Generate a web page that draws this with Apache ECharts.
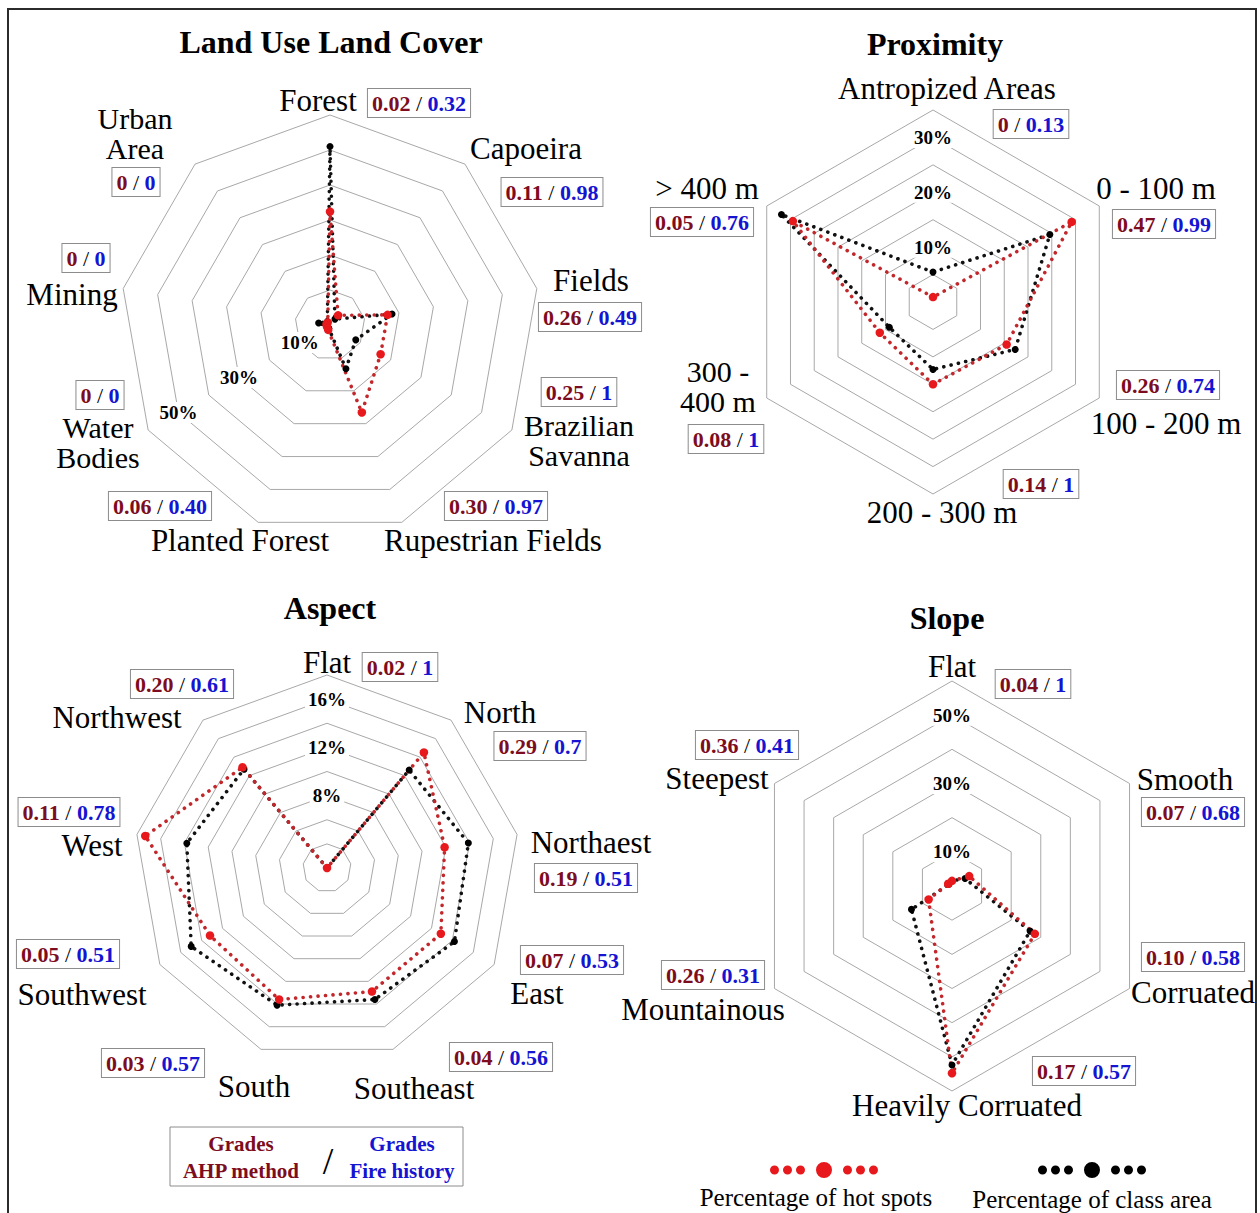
<!DOCTYPE html>
<html><head><meta charset="utf-8">
<script src="https://cdn.jsdelivr.net/npm/echarts@6/dist/echarts.min.js"></script>
<style>html,body{margin:0;padding:0;background:#fff}#c{width:1260px;height:1213px}</style>
</head><body><div id="c"></div>
<script>
// ---------------- DATA (axes listed clockwise from the top) ----------------
const seriesNames = ['Percentage of class area', 'Percentage of hot spots'];

// Land Use Land Cover
const lulcCategories = ['Forest', 'Capoeira', 'Fields', 'Brazilian\nSavanna', 'Rupestrian Fields', 'Planted Forest', 'Water\nBodies', 'Mining', 'Urban\nArea'];
const lulcClassArea = [51, 2.2, 18, 8.5, 13.3, 1.0, 0.8, 3.3, 1.2];
const lulcHotSpots = [32.4, 3.6, 16.7, 16.7, 26.6, 1.5, 1.0, 1.0, 1.0];
const lulcAhp = ['0.02', '0.11', '0.26', '0.25', '0.30', '0.06', '0', '0', '0'];
const lulcFire = ['0.32', '0.98', '0.49', '1', '0.97', '0.40', '0', '0', '0'];
const lulcTicks = [10, 30, 50];

// Proximity
const proxCategories = ['Antropized Areas', '0 - 100 m', '100 - 200 m', '200 - 300 m', '300 -\n400 m', '> 400 m'];
const proxClassArea = [5.45, 24.6, 17.3, 12.3, 9.2, 31.9];
const proxHotSpots = [0.9, 29.2, 15.5, 15.0, 11.2, 29.5];
const proxAhp = ['0', '0.47', '0.26', '0.14', '0.08', '0.05'];
const proxFire = ['0.13', '0.99', '0.74', '1', '1', '0.76'];
const proxTicks = [10, 20, 30];

// Aspect
const aspCategories = ['Flat', 'North', 'Northaest', 'East', 'Southeast', 'South', 'Southwest', 'West', 'Northwest'];
const aspClassArea = [2, 12.6, 13.9, 14.2, 13.6, 14.1, 15.0, 13.8, 12.7];
const aspHotSpots = [2, 14.5, 11.9, 12.9, 12.9, 13.6, 13.2, 17.3, 12.9];
const aspAhp = ['0.02', '0.29', '0.19', '0.07', '0.04', '0.03', '0.05', '0.11', '0.20'];
const aspFire = ['1', '0.7', '0.51', '0.53', '0.56', '0.57', '0.51', '0.78', '0.61'];
const aspTicks = [8, 12, 16];

// Slope
const slpCategories = ['Flat', 'Smooth', 'Corruated', 'Heavily Corruated', 'Mountainous', 'Steepest'];
const slpClassArea = [1.5, 4.4, 26.4, 52.4, 13.7, 1.0];
const slpHotSpots = [1.5, 5.8, 28, 54.8, 7.9, 1.3];
const slpAhp = ['0.04', '0.07', '0.10', '0.17', '0.26', '0.36'];
const slpFire = ['1', '0.68', '0.58', '0.57', '0.31', '0.41'];
const slpTicks = [10, 30, 50];

// ---------------- LAYOUT ----------------
const SERIF = '"Liberation Serif", "Times New Roman", "DejaVu Serif", serif';
const RED_LINE = '#c2282b', RED_DOT = '#e8191c', BLACK = '#000';

const panels = [
  { title: 'Land Use Land Cover', titlePos: [331, 42], center: [330, 325], radius: 210, min: 0, max: 60, split: 6, labelAxis: 6,
    cats: lulcCategories, area: lulcClassArea, hot: lulcHotSpots, ahp: lulcAhp, fire: lulcFire, ticks: lulcTicks,
    namePos: [[318,100],[526,148],[591,280],[579,440],[493,540],[240,540],[98,442],[72,294],[135,133]],
    boxPos: [[419,103],[552,192],[590,317],[579,392],[496,506],[160,506],[100,395],[86,258],[136,182]] },
  { title: 'Proximity', titlePos: [935, 44], center: [933, 302], radius: 192, min: 0, max: 35, split: 7, labelAxis: 0,
    cats: proxCategories, area: proxClassArea, hot: proxHotSpots, ahp: proxAhp, fire: proxFire, ticks: proxTicks,
    namePos: [[947,88],[1156,188],[1166,423],[942,512],[718,386],[707,188]],
    boxPos: [[1031,124],[1164,224],[1168,385],[1041,484],[726,439],[702,222]] },
  { title: 'Aspect', titlePos: [330, 608], center: [327, 868], radius: 193, min: 2, max: 18, split: 8, labelAxis: 0,
    cats: aspCategories, area: aspClassArea, hot: aspHotSpots, ahp: aspAhp, fire: aspFire, ticks: aspTicks,
    namePos: [[327,662],[500,712],[591,842],[537,993],[414,1088],[254,1086],[82,994],[92,845],[117,717]],
    boxPos: [[400,667],[540,746],[586,878],[572,960],[501,1057],[153,1063],[68,954],[69,812],[182,684]] },
  { title: 'Slope', titlePos: [947, 618], center: [952, 886], radius: 205, min: 0, max: 60, split: 6, labelAxis: 0,
    cats: slpCategories, area: slpClassArea, hot: slpHotSpots, ahp: slpAhp, fire: slpFire, ticks: slpTicks,
    namePos: [[952,666],[1185,779],[1193,992],[967,1105],[703,1009],[717,778]],
    boxPos: [[1033,684],[1193,812],[1193,957],[1084,1071],[713,975],[747,745]] }
];

// ECharts lays radar axes counter-clockwise: keep first, reverse the rest
function ccw(arr) { return [arr[0]].concat(arr.slice(1).reverse()); }

const radars = [], series = [], graphics = [];

graphics.push({ type: 'rect', shape: { x: 8, y: 9, width: 1248, height: 1230 }, style: { fill: 'none', stroke: '#2b2b2b', lineWidth: 2 }, silent: true });

panels.forEach(function (p, pi) {
  const indicators = p.cats.map(function (c) { return { name: c, min: p.min, max: p.max }; });
  indicators[p.labelAxis].axisLabel = {
    show: true, margin: 0, rotate: 0, align: 'center', verticalAlign: 'middle',
    formatter: function (v) { return p.ticks.indexOf(Math.round(v * 1000) / 1000) >= 0 ? '{b|' + Math.round(v) + '%}' : ''; },
    rich: { b: { fontFamily: SERIF, fontWeight: 'bold', fontSize: 19, color: '#000', backgroundColor: '#fff', padding: [1, 3] } }
  };
  radars.push({
    center: p.center, radius: p.radius, startAngle: 90, splitNumber: p.split, shape: 'polygon',
    indicator: ccw(indicators),
    axisName: { show: false },
    axisLine: { show: false }, axisTick: { show: false }, axisLabel: { show: false },
    splitArea: { show: false },
    splitLine: { lineStyle: { color: '#a8a8a8', width: 1 } }
  });
  series.push({
    type: 'radar', radarIndex: pi, symbol: 'circle', silent: true, z: 5,
    data: [
      { name: seriesNames[0], value: ccw(p.area), symbolSize: 7, itemStyle: { color: BLACK },
        lineStyle: { color: '#111', width: 3.6, type: [0.1, 7.4], cap: 'round' } },
      { name: seriesNames[1], value: ccw(p.hot), symbolSize: 8.5, itemStyle: { color: RED_DOT },
        lineStyle: { color: RED_LINE, width: 3.6, type: [0.1, 7.4], cap: 'round' } }
    ]
  });
  graphics.push({ type: 'text', x: p.titlePos[0], y: p.titlePos[1], style: { text: p.title, font: 'bold 32px ' + SERIF, fill: '#000', align: 'center', verticalAlign: 'middle' } });
  p.cats.forEach(function (c, i) {
    const multi = c.indexOf('\n') >= 0;
    graphics.push({ type: 'text', x: p.namePos[i][0], y: p.namePos[i][1], style: { text: c, font: (multi ? '30px ' : '31px ') + SERIF, lineHeight: multi ? 30 : 31, fill: '#000', align: 'center', verticalAlign: 'middle' } });
    graphics.push({ type: 'text', x: p.boxPos[i][0], y: p.boxPos[i][1], z: 20, style: {
      text: '{a|' + p.ahp[i] + '}{s| / }{b|' + p.fire[i] + '}', align: 'center', verticalAlign: 'middle',
      backgroundColor: '#fff', borderColor: '#8c8c8c', borderWidth: 1, padding: [3, 4],
      rich: { a: { font: 'bold 22px ' + SERIF, fill: '#7d0d1e' }, s: { font: '22px ' + SERIF, fill: '#000' }, b: { font: 'bold 22px ' + SERIF, fill: '#1414d2' } } } });
  });
});

// grades legend box (bottom left)
graphics.push({ type: 'rect', shape: { x: 170, y: 1127, width: 293, height: 59 }, style: { fill: '#fff', stroke: '#8c8c8c', lineWidth: 1 } });
graphics.push({ type: 'text', x: 241, y: 1157, style: { text: 'Grades\nAHP method', font: 'bold 21px ' + SERIF, lineHeight: 27, fill: '#7d0d1e', align: 'center', verticalAlign: 'middle' } });
graphics.push({ type: 'text', x: 328, y: 1161, style: { text: '/', font: '38px ' + SERIF, fill: '#000', align: 'center', verticalAlign: 'middle' } });
graphics.push({ type: 'text', x: 402, y: 1157, style: { text: 'Grades\nFire history', font: 'bold 21px ' + SERIF, lineHeight: 27, fill: '#1414d2', align: 'center', verticalAlign: 'middle' } });
// legend captions
graphics.push({ type: 'text', x: 816, y: 1197, style: { text: seriesNames[1], font: '25px ' + SERIF, fill: '#000', align: 'center', verticalAlign: 'middle' } });
graphics.push({ type: 'text', x: 1092, y: 1199, style: { text: seriesNames[0], font: '25px ' + SERIF, fill: '#000', align: 'center', verticalAlign: 'middle' } });

// legend icon: three small dots, one large, three small
function dotsPath() {
  const circles = [[4.5, 4.5], [17.5, 4.5], [30.5, 4.5], [54, 8], [77.5, 4.5], [90.5, 4.5], [103.5, 4.5]];
  return 'path://' + circles.map(function (c) {
    const cx = c[0], r = c[1], cy = 8;
    return 'M' + (cx - r) + ' ' + cy + ' A' + r + ' ' + r + ' 0 1 0 ' + (cx + r) + ' ' + cy + ' A' + r + ' ' + r + ' 0 1 0 ' + (cx - r) + ' ' + cy + ' Z';
  }).join(' ');
}
const legendBase = { orient: 'horizontal', itemWidth: 108, itemHeight: 16, padding: 0, selectedMode: false, icon: dotsPath(), formatter: function () { return ''; }, textStyle: { fontSize: 1 } };

const chart = echarts.init(document.getElementById('c'), null, { renderer: 'svg' });
chart.setOption({
  backgroundColor: '#fff',
  animation: false,
  legend: [
    Object.assign({}, legendBase, { left: 770, top: 1162, data: [seriesNames[1]] }),
    Object.assign({}, legendBase, { left: 1038, top: 1162, data: [seriesNames[0]] })
  ],
  radar: radars,
  series: series,
  graphic: { elements: graphics }
});
</script></body></html>
